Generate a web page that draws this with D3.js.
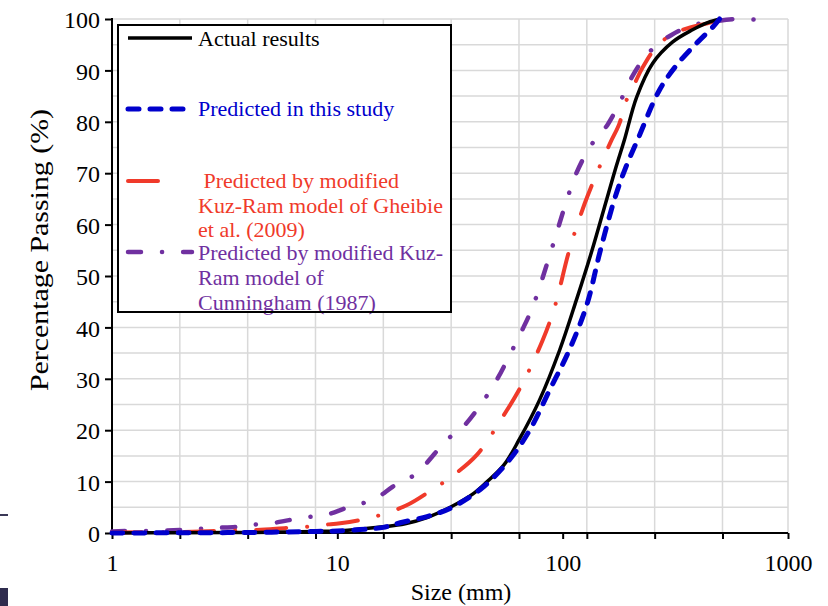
<!DOCTYPE html>
<html><head><meta charset="utf-8">
<script src="https://cdn.jsdelivr.net/npm/d3@7"></script>
<style>
body{margin:0;background:#fff;}
svg{display:block;font-family:"Liberation Serif","Times New Roman",serif;}
</style></head>
<body><svg id="c" width="828" height="606"></svg>
<script>
// ---- data (size in mm, percentage passing) ----
const actualSize = [1,2,4,8,10,16,20,25,32,40,46,55,64,79,97,115,135,157,172,188,213,251,307,377,440,500];
const actualPass = [0,0.05,0.1,0.3,0.4,1.2,1.8,3,5.1,7.6,9.9,13.3,18.1,25.9,35.6,45.3,55,65,71,76.5,84.8,91.4,95.5,97.9,99.3,100];

const studySize = [1,2,4,8,10,16,19,25,32,44,58,71.4,87.5,107,128,147,170,190,215,269,320,393,463,497];
const studyPass = [0,0.05,0.1,0.3,0.4,1.1,2.0,3.2,4.9,8.8,14.2,20,27.8,35.6,44.4,55,65,71,76.5,86.2,91,95.3,98.4,100];

const gheibieSize = [1,2,3,4.4,6,7.3,8.7,10.3,12.6,15,20.3,26.5,31.5,41.6,54.2,65.8,81.5,92.2,107,125,145,163,178,192,209,226,261,314,458,500];
const gheibiePass = [0.1,0.2,0.4,0.6,1.0,1.2,1.6,1.9,2.5,3.3,5.4,8.5,10.7,15.2,22.6,28.8,37.5,44,55,64,71,76,79.5,84.2,87.5,90.5,94.6,97.3,99.4,100];

const cunninghamSize = [1,1.25,1.6,2,2.4,2.9,3.6,4.2,5.1,6.1,7.4,9,11,13,15.4,17.6,21.3,24.4,30.6,36.4,43.8,51,58.2,65.8,73.6,89,103,115,134,158,179,204,236,269,304,377,449,591,748];
const cunninghamPass = [0.3,0.4,0.4,0.6,0.8,1.0,1.2,1.6,1.9,2.5,3.1,3.6,4.9,5.8,7.2,9,10.9,13.2,18.1,20.8,25.3,29.8,34.6,39.3,44,55,64,70,75.5,79.4,83.7,88.9,93,95.3,96.9,98.8,99.4,100,99.8];

const xTickLabels = [1,10,100,1000];
const yTickValues = [0,10,20,30,40,50,60,70,80,90,100];
const seriesNames = ["Actual results","Predicted in this study",
  [" Predicted by modified","Kuz-Ram model of Gheibie","et al. (2009)"],
  ["Predicted by modified Kuz-","Ram model of","Cunningham (1987)"]];

// ---- layout ----
const svg = d3.select("#c");
const L = 112, R = 788, T = 19, B = 533;
const x = d3.scaleLog().domain([1,1000]).range([L,R]);
const y = d3.scaleLinear().domain([0,100]).range([B,T]);

// screenshot edge artifacts
svg.append("rect").attr("x",0).attr("y",514).attr("width",8).attr("height",2).attr("fill","#3a3856");
svg.append("rect").attr("x",0).attr("y",588).attr("width",8).attr("height",18).attr("fill","#2f2c4e");

// gridlines
const gridX = d3.range(1,10).map(k=>Math.pow(2,k)).concat([1000]);
const gridY = d3.range(5,101,5);
const g = svg.append("g");
g.selectAll(".gx").data(gridX).join("line")
  .attr("x1",d=>x(d)).attr("x2",d=>x(d)).attr("y1",T).attr("y2",B)
  .attr("stroke","#d9d9d9").attr("stroke-width",1.5);
g.selectAll(".gy").data(gridY).join("line")
  .attr("x1",L).attr("x2",R).attr("y1",d=>y(d)).attr("y2",d=>y(d))
  .attr("stroke","#d9d9d9").attr("stroke-width",1.5);

// axes
const xTicks = d3.range(0,10).map(k=>Math.pow(2,k)).concat([10,100,1000]);
const xAxis = d3.axisBottom(x).tickValues(xTicks).tickSize(6)
  .tickFormat(d=>xTickLabels.includes(d)?String(d):"");
const yAxis = d3.axisLeft(y).tickValues(yTickValues).tickSize(7).tickFormat(d3.format("d"));
const gx = svg.append("g").attr("transform",`translate(0,${B})`).call(xAxis);
const gy = svg.append("g").attr("transform",`translate(${L},0)`).call(yAxis);
[gx,gy].forEach(a=>{
  a.select(".domain").attr("stroke","#000").attr("stroke-width",2);
  a.selectAll(".tick line").attr("stroke","#000").attr("stroke-width",2);
  a.selectAll(".tick text").attr("font-family","Liberation Serif").attr("font-size",24).attr("fill","#000");
});
gx.select(".domain").attr("d",`M${L},0H${R}`);
gy.select(".domain").attr("d",`M0,${B}V${T-1}`);
gx.selectAll(".tick text").attr("dy","1.2em");
gy.selectAll(".tick text").attr("x",-12).attr("dy","0.36em");

// axis titles
svg.append("text").attr("x",461).attr("y",600).attr("text-anchor","middle")
  .attr("font-size",24).text("Size (mm)");
svg.append("text").attr("transform","translate(48,250) rotate(-90)").attr("text-anchor","middle")
  .attr("font-size",26).attr("textLength",282).attr("lengthAdjust","spacingAndGlyphs")
  .text("Percentage Passing (%)");

// curves
const line = d3.line().x(d=>x(d[0])).y(d=>y(d[1])).curve(d3.curveCatmullRom.alpha(0.5));
const zip = (a,b)=>a.map((v,i)=>[v,b[i]]);
const styles = [
  {data:zip(actualSize,actualPass), color:"#000000", w:3.5, dash:null, cap:"butt"},
  {data:zip(studySize,studyPass), color:"#0000cc", w:5, dash:"11,11", cap:"round"},
  {data:zip(gheibieSize,gheibiePass), color:"#f03a2a", w:4, dash:"30,21,0.1,21", cap:"round"},
  {data:zip(cunninghamSize,cunninghamPass), color:"#7030a0", w:4.5, dash:"13,21,0.1,21", cap:"round"}
];
const drawOrder = [3,2,0,1];
drawOrder.forEach(i=>{
  const s = styles[i];
  svg.append("path").attr("d",line(s.data)).attr("fill","none")
    .attr("stroke",s.color).attr("stroke-width",s.w)
    .attr("stroke-dasharray",s.dash).attr("stroke-linecap",s.cap);
});

// legend
const lg = svg.append("g");
lg.append("rect").attr("x",118).attr("y",25).attr("width",333).attr("height",287)
  .attr("fill","#fff").attr("stroke","none");
const legendY = [38,109,181,252];
const legendText = [[46],[116],[188,213,237],[260,285,310]];
const legendSample = [
  {x2:192, dash:null},
  {x2:190, dash:"11,11"},
  {x2:179, dash:"30,21,0.1,21"},
  {x2:192, dash:"13,21,0.1,21"}
];
styles.forEach((s,i)=>{
  lg.append("line").attr("x1",128).attr("x2",legendSample[i].x2)
    .attr("y1",legendY[i]).attr("y2",legendY[i])
    .attr("stroke",s.color).attr("stroke-width",s.w)
    .attr("stroke-dasharray",legendSample[i].dash).attr("stroke-linecap",s.cap);
  const lines = Array.isArray(seriesNames[i])?seriesNames[i]:[seriesNames[i]];
  lines.forEach((t,j)=>{
    lg.append("text").attr("x",198).attr("y",legendText[i][j])
      .attr("font-size",22).attr("fill",s.color)
      .style("white-space","pre").text(t);
  });
});
lg.append("rect").attr("x",118).attr("y",25).attr("width",333).attr("height",287)
  .attr("fill","none").attr("stroke","#000").attr("stroke-width",2);
</script></body></html>
